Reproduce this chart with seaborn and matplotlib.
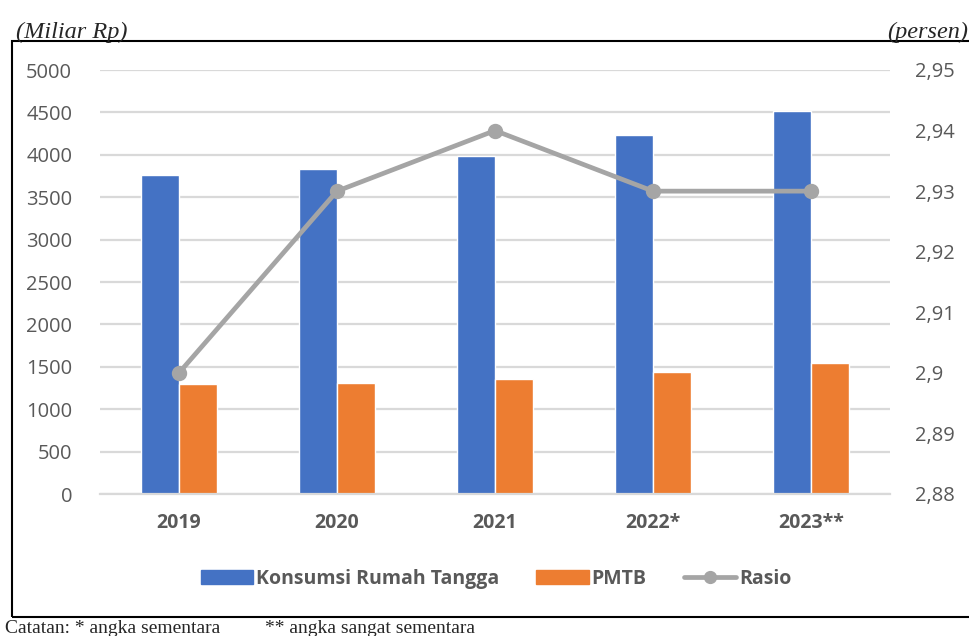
import pandas as pd
import matplotlib.pyplot as plt
import matplotlib.patches as mpatches
import matplotlib.lines as mlines
import seaborn as sns

# data
years = ["2019", "2020", "2021", "2022*", "2023**"]
konsumsi = [3762, 3833, 3986, 4233, 4517]
pmtb = [1297, 1309, 1356, 1439, 1545]
rasio = [2.90, 2.93, 2.94, 2.93, 2.93]

blue = "#4472c4"
orange = "#ed7d31"
grey = "#a5a5a5"
text_grey = "#595959"

bars = pd.DataFrame({
    "Tahun": years * 2,
    "Nilai": konsumsi + pmtb,
    "Seri": ["Konsumsi Rumah Tangga"] * 5 + ["PMTB"] * 5,
})

sns.set_style("white")
plt.rcParams["font.family"] = ["Open Sans", "DejaVu Sans"]

fig = plt.figure(figsize=(9.7, 6.36), dpi=100)
ax = fig.add_axes([100 / 970, 142 / 636, 790 / 970, 424 / 636])

sns.barplot(data=bars, x="Tahun", y="Nilai", hue="Seri",
            palette=[blue, orange], width=0.48, gap=0,
            saturation=1, ax=ax, legend=False)

ax.set_ylim(0, 5000)
ax.set_yticks(range(0, 5001, 500))
ax.yaxis.grid(True, color="#d9d9d9", linewidth=1.6)
ax.set_axisbelow(True)
ax.set_xlabel("")
ax.set_ylabel("")
for s in ["top", "right", "left"]:
    ax.spines[s].set_visible(False)
ax.spines["bottom"].set_color("#d9d9d9")
ax.spines["bottom"].set_linewidth(1.6)
ax.tick_params(axis="y", length=0, pad=20, labelsize=14.5, labelcolor=text_grey)
ax.tick_params(axis="x", length=0, pad=14, labelsize=14, labelcolor=text_grey)
for lab in ax.get_xticklabels():
    lab.set_fontweight("bold")

# ratio on the secondary axis
ax2 = ax.twinx()
sns.pointplot(x=years, y=rasio, color=grey, markers="o", markersize=8.5,
              linewidth=3.4, ax=ax2)
ax2.set_ylim(2.88, 2.95)
ticks2 = [2.88, 2.89, 2.90, 2.91, 2.92, 2.93, 2.94, 2.95]
ax2.set_yticks(ticks2)
ax2.set_yticklabels([("%g" % round(t, 2)).replace(".", ",") for t in ticks2])
ax2.tick_params(axis="y", length=0, pad=18, labelsize=14.5, labelcolor=text_grey)
for s in ax2.spines.values():
    s.set_visible(False)
ax.set_xlim(-0.5, 4.5)

# legend
handles = [
    mpatches.Patch(color=blue, label="Konsumsi Rumah Tangga"),
    mpatches.Patch(color=orange, label="PMTB"),
    mlines.Line2D([], [], color=grey, linewidth=3.4, marker="o", markersize=8.5,
                  label="Rasio"),
]
fig.legend(handles=handles, loc="center", bbox_to_anchor=(496 / 970, 1 - 579 / 636),
           ncol=3, frameon=False, prop={"weight": "bold", "size": 14},
           labelcolor=text_grey, handlelength=2.7, handleheight=0.7,
           handletextpad=0.15, columnspacing=1.9)

# frame around the chart
fig.patches.append(mpatches.Rectangle((12 / 970, 19 / 636), 1.0, 576 / 636,
                                      transform=fig.transFigure, fill=False,
                                      edgecolor="black", linewidth=1.5))

serif = ["Liberation Serif", "DejaVu Serif"]
fig.text(16 / 970, 1 - 38 / 636, "(Miliar Rp)", family=serif, style="italic",
         fontsize=17.5, ha="left", va="baseline")
fig.text(968 / 970, 1 - 38 / 636, "(persen)", family=serif, style="italic",
         fontsize=17.5, ha="right", va="baseline")
fig.text(5 / 970, 1 - 633 / 636, "Catatan: * angka sementara",
         family=serif, fontsize=14, ha="left", va="baseline")
fig.text(265 / 970, 1 - 633 / 636, "** angka sangat sementara",
         family=serif, fontsize=14, ha="left", va="baseline")

fig.savefig("out.png", dpi=100)
